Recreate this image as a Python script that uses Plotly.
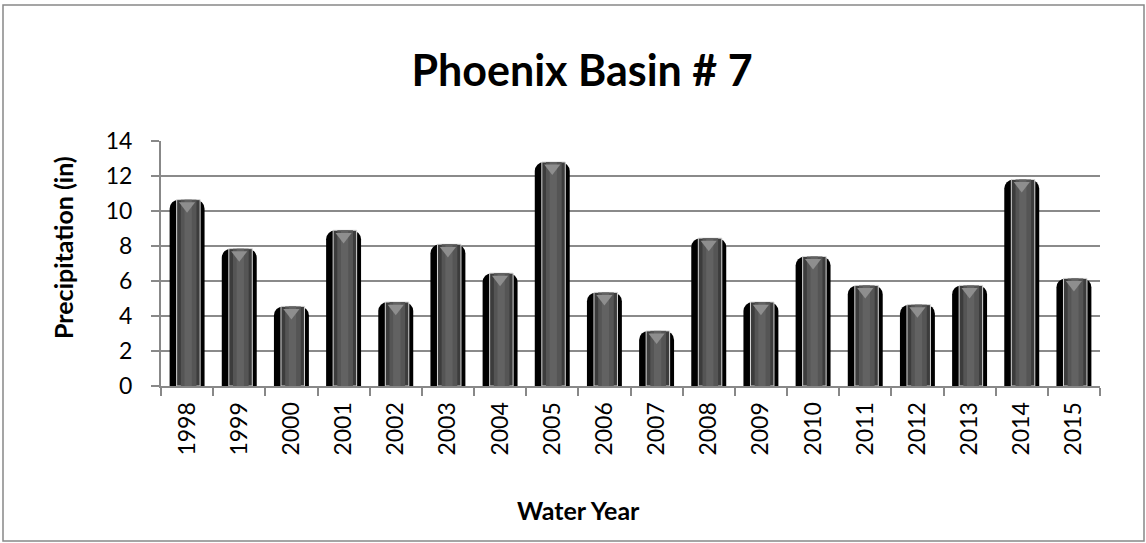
import plotly.graph_objects as go

years = [str(y) for y in range(1998, 2016)]
precip = [10.65, 7.85, 4.55, 8.9, 4.8, 8.1, 6.45, 12.8, 5.35, 3.15, 8.45, 4.8, 7.4, 5.75, 4.65, 5.75, 11.8, 6.15]

W, H = 1146, 543
ML, MR, MT, MB = 161, 46, 141, 157
FONT = "Lato"

fig = go.Figure()
# outer black bar (rounded top)
fig.add_trace(go.Bar(x=years, y=precip, width=0.67, marker=dict(color="#000000", cornerradius=9, line=dict(width=0)), hoverinfo="skip"))
# inner gray layers to imitate the shading
fig.add_trace(go.Bar(x=years, y=precip, width=0.45, offset=-0.20, marker=dict(color="#3c3c3c", line=dict(width=1, color="#d8d8d8")), hoverinfo="skip"))
fig.add_trace(go.Bar(x=years, y=precip, width=0.30, offset=-0.12, marker=dict(color="#555555", line=dict(width=0)), hoverinfo="skip"))
fig.add_trace(go.Bar(x=years, y=precip, width=0.14, offset=-0.05, marker=dict(color="#626262", line=dict(width=0)), hoverinfo="skip"))
# light triangle cap at top
fig.add_trace(go.Scatter(x=years, y=[v - 0.35 for v in precip], mode="markers",
                         marker=dict(symbol="triangle-down", size=14, color="#8e8e8e", line=dict(width=0)),
                         hoverinfo="skip"))

pw = W - ML - MR
ph = H - MT - MB


def px_x(px):
    return (px - ML) / pw


def px_y(py):
    return (H - MB - py) / ph


fig.add_shape(type="rect", xref="paper", yref="paper",
              x0=px_x(3), x1=px_x(W - 2), y0=px_y(H - 2), y1=px_y(5),
              line=dict(color="#888888", width=1.5), fillcolor="rgba(0,0,0,0)", layer="below")

fig.add_annotation(text="<b>Precipitation (in)</b>", xref="paper", yref="paper",
                   x=px_x(63), y=px_y(248), xanchor="center", yanchor="middle",
                   textangle=-90, showarrow=False, font=dict(size=25, family=FONT, color="black"))
fig.add_annotation(text="<b>Water Year</b>", xref="paper", yref="paper",
                   x=px_x(578), y=px_y(510), xanchor="center", yanchor="middle",
                   showarrow=False, font=dict(size=25, family=FONT, color="black"))

fig.update_layout(
    width=W, height=H,
    margin=dict(l=ML, r=MR, t=MT, b=MB),
    paper_bgcolor="white", plot_bgcolor="white",
    barmode="overlay", showlegend=False,
    font=dict(family=FONT, color="black"),
    title=dict(text="<b>Phoenix Basin # 7</b>", x=582 / W, xanchor="center", y=1 - 71 / H, yanchor="middle",
               font=dict(size=43, family=FONT, color="black")),
    xaxis=dict(type="category", range=[-0.5, len(years) - 0.5], showgrid=False, showline=True,
               linecolor="#888888", linewidth=2,
               ticks="outside", tickson="boundaries", ticklen=8, tickcolor="#888888", tickwidth=2,
               tickangle=-90, tickfont=dict(size=23, family=FONT), ticklabelstandoff=5),
    yaxis=dict(range=[0, 14], dtick=2, showgrid=True, gridcolor="#8a8a8a", gridwidth=2,
               showline=True, linecolor="#888888", linewidth=2, zeroline=False,
               ticks="outside", ticklen=8, tickcolor="#888888", tickwidth=2,
               tickfont=dict(size=23, family=FONT), ticklabelstandoff=14),
)

fig.write_html("out.html", config={"displayModeBar": False},
               post_script="document.body.style.margin='0';")
